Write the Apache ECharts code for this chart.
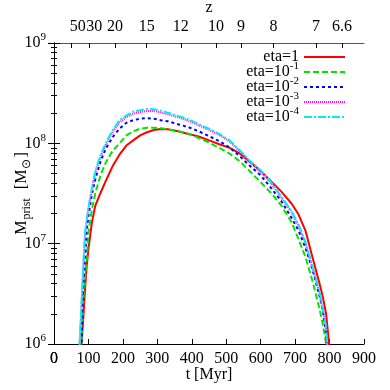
<!DOCTYPE html>
<html>
<head>
<meta charset="utf-8">
<script src="https://cdn.jsdelivr.net/npm/echarts@6/dist/echarts.min.js"></script>
<style>
html, body { margin: 0; padding: 0; background: #fff; }
#main { width: 390px; height: 390px; }
</style>
</head>
<body>
<div id="main"></div>
<script>
// time grid [Myr]
var timeMyr = [70, 75, 80, 85, 90, 95, 100, 110, 120, 135, 150, 170, 190, 210, 230, 250, 270, 290, 310, 330,
    360, 390, 420, 450, 480, 510, 540, 570, 600, 630, 660, 690, 710, 730, 750, 770, 780, 790, 800, 810];

// M_prist [Msun] per eta
var massEta1 = [2e5, 4e5, 1.0e6, 1.8e6, 3.5e6, 6.0e6, 8.9e6, 1.62e7, 2.4e7, 3.2e7, 4.2e7, 5.9e7, 7.7e7, 9.5e7, 1.07e8, 1.2e8, 1.29e8, 1.36e8, 1.39e8, 1.38e8,
    1.32e8, 1.24e8, 1.17e8, 1.07e8, 9.8e7, 9.0e7, 7.9e7, 6.5e7, 5.3e7, 4.2e7, 3.3e7, 2.5e7, 1.95e7, 1.35e7, 7.4e6, 4.1e6, 3.0e6, 2.0e6, 9e5, 3e5];
var massEta1m1 = [2e5, 4e5, 1.0e6, 2.75e6, 4.4e6, 6.9e6, 1.28e7, 2.2e7, 3.2e7, 4.8e7, 6.4e7, 8.4e7, 1.0e8, 1.2e8, 1.32e8, 1.4e8, 1.43e8, 1.43e8, 1.41e8, 1.38e8,
    1.32e8, 1.25e8, 1.13e8, 1.02e8, 9.0e7, 7.9e7, 6.6e7, 5.2e7, 4.1e7, 3.2e7, 2.4e7, 1.63e7, 1.1e7, 7.4e6, 4.3e6, 2.3e6, 1.6e6, 1.0e6, 3e5, 1e5];
var massEta1m2 = [3e5, 5e5, 1.0e6, 3.7e6, 6.9e6, 1.35e7, 1.89e7, 3.1e7, 4.4e7, 6.6e7, 8.8e7, 1.15e8, 1.4e8, 1.6e8, 1.7e8, 1.76e8, 1.78e8, 1.76e8, 1.7e8, 1.66e8,
    1.55e8, 1.45e8, 1.32e8, 1.18e8, 1.05e8, 9.1e7, 7.4e7, 5.9e7, 4.8e7, 3.6e7, 2.65e7, 1.8e7, 1.35e7, 9.1e6, 5.6e6, 3.1e6, 2.2e6, 1.3e6, 3e5, 1e5];
var massEta1m3 = [5e5, 1.1e6, 2.5e6, 5.7e6, 1.22e7, 1.68e7, 2.25e7, 3.45e7, 5.1e7, 7.3e7, 9.6e7, 1.29e8, 1.62e8, 1.82e8, 1.98e8, 2.05e8, 2.1e8, 2.1e8, 2.03e8, 1.95e8,
    1.82e8, 1.68e8, 1.51e8, 1.36e8, 1.21e8, 1.04e8, 8.3e7, 6.4e7, 5.2e7, 4.0e7, 2.88e7, 2.05e7, 1.5e7, 1.0e7, 5.8e6, 3.3e6, 2.2e6, 1.4e6, 3e5, 1e5];
var massEta1m4 = [5e5, 1.1e6, 2.6e6, 5.9e6, 1.27e7, 1.72e7, 2.3e7, 3.55e7, 5.3e7, 7.6e7, 1.0e8, 1.35e8, 1.7e8, 1.9e8, 2.07e8, 2.14e8, 2.2e8, 2.19e8, 2.11e8, 2.02e8,
    1.88e8, 1.74e8, 1.55e8, 1.4e8, 1.24e8, 1.07e8, 8.5e7, 6.6e7, 5.4e7, 4.1e7, 2.95e7, 2.1e7, 1.55e7, 1.05e7, 6.0e6, 3.4e6, 2.3e6, 1.5e6, 3e5, 1e5];

var seriesNames = ['eta=1', 'eta=10^-1', 'eta=10^-2', 'eta=10^-3', 'eta=10^-4'];
var seriesColors = ['#ff0000', '#00e600', '#0000ff', '#ff00ff', '#00eeee'];
var seriesDash = ['solid', [6, 3], [3, 3], [1, 1], [8, 2, 2, 2]];
var seriesMass = [massEta1, massEta1m1, massEta1m2, massEta1m3, massEta1m4];

// top axis: redshift ticks (age in Myr) and their labels
var zLabels = ['50', '30', '20', '15', '12', '10', '9', '8', '7', '6.6'];
var zTickAge = [51, 102, 177, 269, 368, 470, 543, 637, 761, 836];
// the two crowded labels (50, 30) are printed a little right of their ticks
var zCrowdLabelAge = [69, 117];

var font = 'Liberation Serif';
var minorTicks = [];
for (var e = 6; e < 9; e++) {
    for (var k = 2; k < 10; k++) minorTicks.push(e + Math.log10(k));
}

var supRich = {
    b: { fontFamily: font, fontSize: 16, lineHeight: 22, color: '#000' },
    s: { fontFamily: font, fontSize: 11, verticalAlign: 'top', color: '#000' },
    sub: { fontFamily: font, fontSize: 12, verticalAlign: 'bottom', color: '#000', padding: [0, 1, 0, 1] }
};
function supText(name) {
    var p = name.split('^');
    return p.length > 1 ? '{b|' + p[0] + '}{s|' + p[1] + '}' : '{b|' + name + '}';
}

var myChart = echarts.init(document.getElementById('main'));
var series = [];
for (var i = 0; i < seriesNames.length; i++) {
    var pts = [];
    for (var j = 0; j < timeMyr.length; j++) pts.push([timeMyr[j], seriesMass[i][j]]);
    series.push({
        name: seriesNames[i],
        type: 'line',
        xAxisIndex: 0,
        yAxisIndex: 0,
        symbol: 'none',
        lineStyle: { color: seriesColors[i], width: 2, type: seriesDash[i] },
        itemStyle: { color: seriesColors[i] },
        data: pts
    });
}

var tickStyle = { color: '#000', width: 1 };
var labelStyle = { fontFamily: font, fontSize: 16, color: '#000' };

// extra axis carrying a single label only
function labelOnlyAxis(pos, value, text, margin) {
    return {
        type: 'value', position: pos, min: 0, max: 900,
        axisLine: { show: false },
        axisTick: { show: false },
        axisLabel: {
            fontFamily: font, fontSize: 16, color: '#000', margin: margin,
            showMinLabel: true, hideOverlap: false,
            customValues: [value],
            formatter: function () { return text; }
        },
        splitLine: { show: false }
    };
}

var option = {
    animation: false,
    backgroundColor: '#fff',
    grid: { left: 54, right: 26, top: 43, bottom: 46, outerBoundsMode: 'none' },
    legend: {
        orient: 'vertical',
        align: 'right',
        right: 44,
        top: 49,
        padding: 0,
        itemWidth: 41,
        itemHeight: 10,
        itemGap: -4,
        itemStyle: { color: 'rgba(0,0,0,0)', borderWidth: 0, opacity: 0 },
        formatter: supText,
        textStyle: { fontFamily: font, fontSize: 16, color: '#000', rich: supRich },
        data: seriesNames
    },
    xAxis: [
        {
            type: 'value', position: 'bottom', min: 0, max: 900, interval: 100,
            name: 't [Myr]', nameLocation: 'middle', nameGap: 23, nameMoveOverlap: false,
            nameTextStyle: labelStyle,
            axisLine: { lineStyle: tickStyle },
            axisTick: { inside: true, length: 5, lineStyle: tickStyle },
            axisLabel: { fontFamily: font, fontSize: 16, color: '#000', margin: 7, showMinLabel: true, hideOverlap: false },
            splitLine: { show: false }
        },
        {
            type: 'value', position: 'top', min: 0, max: 900,
            name: 'z', nameLocation: 'middle', nameGap: 27, nameMoveOverlap: false,
            nameTextStyle: labelStyle,
            axisLine: { lineStyle: { color: '#555', width: 1 } },
            axisTick: { inside: true, length: 5, customValues: zTickAge, lineStyle: tickStyle },
            axisLabel: {
                fontFamily: font, fontSize: 16, color: '#000', margin: 8,
                customValues: zTickAge.slice(2),
                formatter: function (v) { return zLabels[zTickAge.indexOf(v)]; }
            },
            splitLine: { show: false }
        },
        labelOnlyAxis('top', zCrowdLabelAge[0], zLabels[0], 8),
        labelOnlyAxis('top', zCrowdLabelAge[1], zLabels[1], 8),
        labelOnlyAxis('bottom', 0, '0', 7)
    ],
    yAxis: [
        {
            type: 'log', logBase: 10, position: 'left', min: 1e6, max: 1e9,
            name: '{b|M}{sub|prist}{b|  [M}{sub|⊙}{b|]}', nameLocation: 'middle', nameGap: 21, nameRotate: 90,
            nameMoveOverlap: false,
            nameTextStyle: { fontFamily: font, fontSize: 16, color: '#000', rich: supRich },
            axisLine: { lineStyle: tickStyle },
            axisTick: { inside: true, length: 6, lineStyle: tickStyle },
            axisLabel: {
                margin: 8, rich: supRich, showMinLabel: true, hideOverlap: false,
                formatter: function (v) { return '{b|10}{s|' + Math.round(Math.log10(v)) + '}'; }
            },
            splitLine: { show: false }
        },
        {
            type: 'value', position: 'left', min: 6, max: 9,
            axisLine: { show: false },
            axisTick: { inside: true, length: 3, customValues: minorTicks, lineStyle: tickStyle },
            axisLabel: { show: false },
            splitLine: { show: false }
        },
        {
            type: 'value', position: 'right', min: 6, max: 9, interval: 1,
            axisLine: { lineStyle: tickStyle },
            axisTick: { inside: true, length: 6, lineStyle: tickStyle },
            axisLabel: { show: false },
            splitLine: { show: false }
        },
        {
            type: 'value', position: 'right', min: 6, max: 9,
            axisLine: { show: false },
            axisTick: { inside: true, length: 3, customValues: minorTicks, lineStyle: tickStyle },
            axisLabel: { show: false },
            splitLine: { show: false }
        }
    ],
    series: series
};
myChart.setOption(option);
</script>
</body>
</html>
